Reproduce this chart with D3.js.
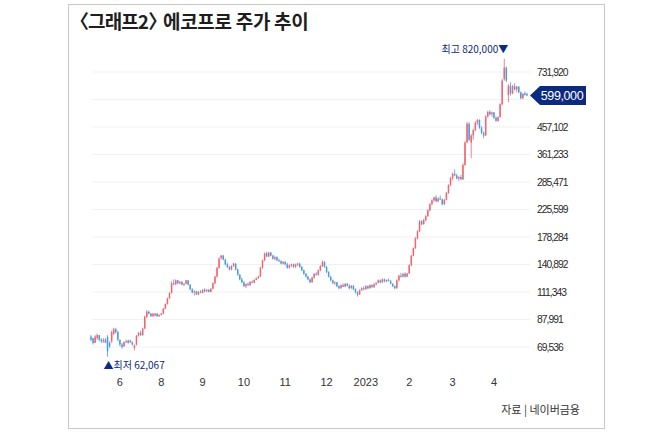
<!DOCTYPE html>
<html>
<head>
<meta charset="utf-8">
<script src="https://cdn.jsdelivr.net/npm/d3@7"></script>
<style>
    body { margin: 0; background: #fff; }
    svg { display: block; }
</style>
</head>
<body>
<div id="chart"></div>
<script>
// daily candles, thousands of won: [open, high, low, close]
var candles = [
    [76, 77, 73, 74], [75, 75, 71, 72], [72, 77, 72, 76], [75, 78, 74, 77], [77, 77, 73, 74],
    [74, 75, 72, 73], [73, 75, 72, 74], [74, 75, 72, 72], [76, 77, 64, 67], [72, 73, 69, 70],
    [73, 80, 72, 79], [78, 82, 77, 81], [81, 82, 78, 79], [79, 80, 73, 74], [74, 74, 70, 71],
    [71, 72, 68.5, 69.5], [70, 73, 69.5, 72.5], [73, 74, 72, 72.5], [72, 74, 71.5, 73.5], [73.5, 74, 72, 72.5],
    [72.5, 73, 70.5, 71], [69, 71, 67.5, 70.5], [71, 77, 70.5, 76.5], [76.5, 79, 76, 78.5], [78.5, 80, 76.5, 77],
    [77, 82, 76.5, 81.5], [81.5, 91, 81, 90], [90, 95.5, 89, 94], [94, 95, 92, 92.5], [92.5, 93, 90, 90.5],
    [90.5, 93, 90, 92.5], [91, 93, 90.5, 92.5], [92.5, 93, 90, 90.5], [90.5, 92, 90, 91.5], [91.5, 93, 91, 92.5],
    [92.5, 97, 92, 96.5], [96.5, 101, 96, 100.5], [100.5, 106, 100, 105.5], [105.5, 111, 105, 110.5], [110.5, 122, 110, 120],
    [120, 124, 118, 119], [119, 124, 118, 123], [123, 123.5, 119, 120], [120, 122, 119, 121.5], [121.5, 122, 118, 118.5],
    [118.5, 120, 117, 119.5], [119.5, 123.5, 119, 123], [123, 123.5, 118, 118.5], [118.5, 119, 113, 114], [114, 115, 110, 111],
    [111, 113, 108, 112], [112, 112.5, 108.5, 109], [109, 112, 108.5, 111.5], [111.5, 113, 110, 110.5], [110.5, 114, 110, 113.5],
    [113.5, 115, 111, 112], [112, 114, 111.5, 113.5], [113.5, 114, 111, 111.5], [111.5, 115, 111, 114.5], [114.5, 121, 114, 120],
    [120, 128, 119, 127], [127, 138, 126, 137], [137, 150, 136, 148], [149, 153, 147, 152], [152, 153, 146, 147],
    [147, 148, 140, 141], [141, 143, 137, 138], [138, 139, 134, 135], [135, 140, 134, 139], [139, 143, 138, 142],
    [142, 142.5, 134, 135], [135, 136, 128, 129], [129, 130, 123, 124], [124, 126, 120, 121], [121, 122, 116, 117],
    [117, 120, 115, 119], [119, 121, 117, 118], [118, 122, 117.5, 121.5], [121.5, 123, 120, 120.5], [120.5, 124, 120, 123.5],
    [123.5, 126, 123, 125.5], [125.5, 128, 124.5, 127], [127, 138, 126.5, 137], [137, 147, 136, 146], [146, 156, 145, 155],
    [155, 157, 150, 151], [151, 157, 150, 156], [156, 157, 151, 152], [152, 153, 147, 148], [148, 152, 146, 150],
    [150, 151, 145, 146], [146, 148, 144, 145], [145, 146, 141, 142], [142, 145, 141, 144], [144, 145, 140, 141],
    [141, 143, 136, 137], [137, 141, 136, 140], [140, 142, 138, 141], [141, 142, 137, 138], [138, 142, 137, 141],
    [141, 143, 139, 142], [142, 143, 137, 138], [138, 139, 133, 134], [134, 135, 129, 130], [130, 131, 126, 127],
    [127, 128, 123, 124], [124, 125, 120, 121], [121, 127, 120.5, 126], [126, 131, 125, 130], [130, 132, 128, 129],
    [129, 135, 128, 134], [134, 140, 133, 139], [139, 146, 138, 144], [144, 145, 137, 138], [138, 139, 131, 132],
    [132, 133, 126, 127], [127, 128, 122, 123], [123, 124, 119, 120], [120, 122, 118, 121], [121, 121.5, 116, 117],
    [117, 118, 114, 115], [115, 119, 114.5, 118], [118, 120, 116, 116.5], [116.5, 120, 116, 119.5], [119.5, 120, 117, 117.5],
    [117.5, 119, 114, 115], [115, 118, 114.5, 117.5], [117.5, 118, 113, 114], [114, 115, 110, 111], [111, 112, 107, 109],
    [109, 114, 108.5, 113], [113, 116, 112.5, 115], [115, 117, 113, 114], [114, 118, 113.5, 117], [117, 118, 114, 115],
    [115, 119, 114.5, 118], [118, 119, 115.5, 116], [116, 120, 115.5, 119], [119, 121, 118, 120.5], [120.5, 124, 120, 123],
    [123, 124, 120, 121], [121, 125, 120.5, 124], [124, 125, 121, 122], [122, 124, 121, 123.5], [123.5, 125, 122, 122.5],
    [122.5, 123, 119, 119.5], [119.5, 120, 116, 117], [117, 118, 114, 115], [115, 124, 114.5, 123], [123, 129, 122, 128],
    [128, 131, 126, 127], [127, 131, 126, 130], [130, 132, 126, 127], [127, 131, 126.5, 130.5], [130.5, 141, 130, 140],
    [140, 153, 139, 152], [152, 163, 151, 162], [162, 178, 161, 176], [176, 189, 175, 187], [187, 206, 186, 204],
    [204, 206, 197, 199], [199, 208, 198, 206], [206, 215, 204, 213], [213, 226, 212, 224], [224, 238, 222, 236],
    [236, 246, 234, 244], [244, 252, 241, 250], [250, 255, 240, 242], [242, 250, 240, 248], [248, 254, 245, 246],
    [246, 248, 234, 236], [236, 247, 235, 245], [245, 262, 244, 260], [260, 280, 258, 278], [278, 298, 275, 295],
    [295, 310, 290, 306], [306, 318, 300, 302], [302, 306, 292, 294], [294, 300, 288, 298], [298, 304, 290, 292],
    [292, 335, 290, 330], [330, 405, 328, 400], [400, 478, 398, 470], [470, 476, 405, 410], [400, 430, 350, 425],
    [425, 450, 410, 445], [445, 480, 440, 475], [475, 490, 465, 485], [485, 488, 450, 455], [455, 460, 430, 435],
    [435, 440, 415, 425], [425, 505, 423, 500], [500, 525, 495, 520], [520, 528, 505, 510], [510, 522, 500, 518],
    [518, 520, 490, 495], [495, 500, 478, 482], [482, 500, 478, 498], [498, 560, 495, 555], [555, 690, 550, 680],
    [690, 820, 680, 760], [760, 765, 670, 680], [600, 660, 565, 650], [650, 670, 600, 610], [610, 655, 605, 648],
    [648, 665, 625, 630], [630, 650, 615, 645], [645, 650, 610, 615], [615, 620, 578, 585], [585, 612, 580, 607],
    [610, 620, 598, 602], [606, 614, 596, 599]
];

var yTicks = [69.536, 87.991, 111.343, 140.892, 178.284, 225.599, 285.471, 361.233, 457.102, 578.414, 731.920];
var yTickLabels = ['69,536', '87,991', '111,343', '140,892', '178,284', '225,599', '285,471', '361,233', '457,102', '', '731,920'];

var monthIdx = [14, 34, 54, 74, 94, 114, 133, 154, 175, 195];
var monthLabels = ['6', '8', '9', '10', '11', '12', '2023', '2', '3', '4'];

var highIdx = 200, highLabel = '최고 820,000▼';
var lowIdx = 8, lowLabel = '▲최저 62,067';
var lastPrice = 599, lastLabel = '599,000';
var title = '〈그래프2〉 에코프로 주가 추이';
var source = '자료 | 네이버금융';

var width = 650, height = 439;
var upColor = '#f0656f', downColor = '#4b9be0', navy = '#0c2a7f';

var svg = d3.select('#chart').append('svg')
    .attr('width', width)
    .attr('height', height);

// frame
svg.append('rect')
    .attr('x', 68.5).attr('y', 4.5)
    .attr('width', 536).attr('height', 424)
    .attr('fill', 'none')
    .attr('stroke', '#c9c9c9');

// title, split after the bracket so the gap stays tight
var cut = title.indexOf(' ');
var titleText = svg.append('text')
    .attr('y', 29)
    .attr('font-family', '"Noto Sans CJK KR", sans-serif')
    .attr('font-weight', 'bold')
    .attr('font-size', 19)
    .attr('fill', '#1e1e1e');
titleText.append('tspan').attr('x', 70).attr('letter-spacing', -0.9).text(title.slice(0, cut));
titleText.append('tspan').attr('x', 159).attr('letter-spacing', -0.3).text(title.slice(cut));

var x = d3.scaleLinear().domain([0, candles.length - 1]).range([91, 527]);
var y = d3.scaleLog().domain([69.536, 731.92]).range([347, 72]);

// grid
svg.append('g').selectAll('line')
    .data(yTicks)
    .enter().append('line')
    .attr('x1', 92).attr('x2', 530)
    .attr('y1', (d) => y(d)).attr('y2', (d) => y(d))
    .attr('stroke', '#eef1f6')
    .attr('stroke-width', 1);

// y labels
svg.append('g').selectAll('text')
    .data(yTicks)
    .enter().append('text')
    .attr('x', 537)
    .attr('y', (d) => y(d))
    .attr('dy', '0.35em')
    .attr('font-family', '"Liberation Sans", Arial, sans-serif')
    .attr('font-size', 10.3)
    .attr('letter-spacing', -0.95)
    .attr('fill', '#2a2a2a')
    .text((d, i) => yTickLabels[i]);

// x labels
svg.append('g').selectAll('text')
    .data(monthIdx)
    .enter().append('text')
    .attr('x', (d) => x(d))
    .attr('y', 386)
    .attr('text-anchor', 'middle')
    .attr('font-family', '"Liberation Sans", Arial, sans-serif')
    .attr('font-size', 11)
    .attr('fill', '#333')
    .text((d, i) => monthLabels[i]);

// candles
var g = svg.append('g');
var c = g.selectAll('.candle')
    .data(candles)
    .enter().append('g')
    .classed('candle', true);

c.append('line')
    .attr('x1', (d, i) => x(i)).attr('x2', (d, i) => x(i))
    .attr('y1', (d) => y(d[1])).attr('y2', (d) => y(d[2]))
    .attr('stroke', (d) => d[3] >= d[0] ? upColor : downColor)
    .attr('stroke-width', 0.8);

c.append('rect')
    .attr('x', (d, i) => x(i) - 0.75)
    .attr('width', 1.5)
    .attr('y', (d) => y(Math.max(d[0], d[3])))
    .attr('height', (d) => Math.max(1, Math.abs(y(d[0]) - y(d[3]))))
    .attr('fill', (d) => d[3] >= d[0] ? upColor : downColor);

// high / low notes
svg.append('text')
    .attr('x', x(highIdx) + 4)
    .attr('y', y(candles[highIdx][1]) - 6)
    .attr('text-anchor', 'end')
    .attr('font-family', '"Noto Sans CJK KR", sans-serif')
    .attr('font-size', 10)
    .attr('fill', navy)
    .text(highLabel);

svg.append('text')
    .attr('x', x(lowIdx) - 4)
    .attr('y', y(candles[lowIdx][2]) + 12)
    .attr('font-family', '"Noto Sans CJK KR", sans-serif')
    .attr('font-size', 10)
    .attr('fill', navy)
    .text(lowLabel);

// last price tag
var ly = y(lastPrice);
svg.append('path')
    .attr('d', 'M530,' + ly + 'L540,' + (ly - 9.5) + 'H586V' + (ly + 9.5) + 'H540Z')
    .attr('fill', navy);
svg.append('text')
    .attr('x', 562).attr('y', ly)
    .attr('dy', '0.36em')
    .attr('text-anchor', 'middle')
    .attr('font-family', '"Liberation Sans", Arial, sans-serif')
    .attr('font-size', 12.5)
    .attr('letter-spacing', -0.4)
    .attr('fill', '#fff')
    .text(lastLabel);

svg.append('text')
    .attr('x', 580).attr('y', 414)
    .attr('text-anchor', 'end')
    .attr('font-family', '"Noto Sans CJK KR", sans-serif')
    .attr('font-size', 11)
    .attr('fill', '#333')
    .text(source);
</script>
</body>
</html>
